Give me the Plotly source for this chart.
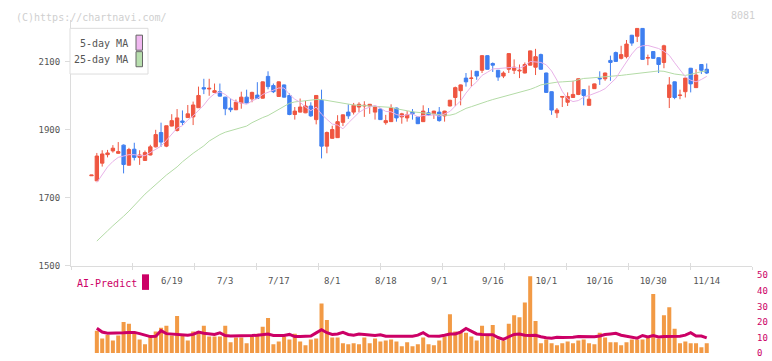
import plotly.graph_objects as go

# ---------------- data ----------------
days = list(range(116))  # trading-day index, 0 = 5/29 ... 115 = 11/14
tick_days = [15, 25, 35, 45, 55, 65, 75, 85, 95, 105, 115]
tick_labels = ["6/19", "7/3", "7/17", "8/1", "8/18", "9/1", "9/16", "10/1", "10/16", "10/30", "11/14"]

opens = [1764, 1749, 1801, 1826, 1837, 1830, 1854, 1795, 1842, 1818,
         1809, 1825, 1849, 1891, 1851, 1910, 1897, 1925, 1935, 1937,
         1964, 2023, 2019, 2009, 2011, 1995, 1963, 1958, 1978, 1995,
         1990, 2001, 1992, 2056, 2029, 1997, 2031, 2000, 1944, 1951,
         1949, 1969, 1929, 1986, 1851, 1874, 1876, 1921, 1951, 1951,
         1966, 1969, 1969, 1951, 1960, 1920, 1923, 1963, 1937, 1934,
         1951, 1937, 1923, 1949, 1946, 1951, 1940, 1969, 1994, 2014,
         2051, 2050, 2071, 2074, 2117, 2094, 2074, 2057, 2077, 2074,
         2072, 2066, 2089, 2083, 2120, 2066, 2011, 1949, 1995, 1980,
         1994, 2003, 2017, 1971, 2020, 2051, 2049, 2103, 2126, 2109,
         2114, 2177, 2174, 2197, 2110, 2129, 2111, 2097, 1994, 2040,
         2000, 2011, 2080, 2023, 2091, 2077]
highs = [1766, 1831, 1839, 1840, 1854, 1863, 1856, 1846, 1861, 1839,
         1838, 1855, 1899, 1920, 1911, 1945, 1960, 1956, 1972, 1982,
         2026, 2049, 2049, 2035, 2035, 1996, 1991, 1988, 2011, 2017,
         2011, 2039, 2041, 2071, 2035, 2041, 2032, 2006, 1966, 1991,
         1984, 1980, 2001, 2017, 1894, 1911, 1942, 1944, 1974, 1978,
         1980, 1983, 1975, 1967, 1962, 1943, 1974, 1964, 1949, 1954,
         1960, 1938, 1971, 1963, 1955, 1966, 1955, 1987, 2026, 2032,
         2066, 2074, 2072, 2118, 2118, 2097, 2075, 2071, 2124, 2106,
         2091, 2097, 2132, 2137, 2123, 2067, 2012, 1963, 1998, 2009,
         2043, 2050, 2018, 2029, 2035, 2071, 2067, 2117, 2129, 2146,
         2163, 2178, 2198, 2198, 2120, 2130, 2112, 2149, 2054, 2041,
         2017, 2052, 2081, 2077, 2092, 2094]
lows = [1764, 1749, 1791, 1818, 1832, 1828, 1771, 1794, 1809, 1796,
        1808, 1824, 1847, 1849, 1848, 1909, 1894, 1913, 1934, 1913,
        1964, 2004, 1999, 2008, 1997, 1942, 1951, 1957, 1961, 1977,
        1980, 1990, 1991, 2018, 2007, 1996, 1994, 1942, 1929, 1950,
        1948, 1937, 1915, 1815, 1830, 1873, 1875, 1910, 1931, 1944,
        1951, 1937, 1946, 1929, 1928, 1914, 1922, 1923, 1917, 1923,
        1929, 1916, 1922, 1940, 1931, 1923, 1923, 1968, 1969, 1971,
        2026, 2026, 2046, 2066, 2076, 2069, 2043, 2051, 2066, 2063,
        2051, 2065, 2088, 2060, 2076, 2008, 1943, 1934, 1966, 1969,
        1993, 2001, 1971, 1970, 2019, 2031, 2043, 2043, 2099, 2106,
        2109, 2146, 2157, 2105, 2089, 2108, 2066, 2080, 1963, 1989,
        1989, 1994, 2009, 2022, 2063, 2063]
closes = [1766, 1822, 1828, 1831, 1845, 1835, 1797, 1841, 1818, 1825,
          1832, 1849, 1885, 1863, 1911, 1926, 1934, 1921, 1946, 1972,
          2000, 2019, 2021, 2014, 1998, 1961, 1958, 1980, 1995, 1978,
          2009, 1991, 2040, 2026, 2011, 2040, 1995, 1944, 1954, 1966,
          1969, 1940, 2000, 1851, 1891, 1900, 1923, 1943, 1940, 1971,
          1974, 1971, 1974, 1966, 1929, 1926, 1963, 1934, 1946, 1943,
          1946, 1917, 1954, 1943, 1954, 1926, 1954, 1986, 2023, 2031,
          2040, 2051, 2057, 2117, 2077, 2089, 2054, 2066, 2123, 2083,
          2074, 2091, 2131, 2114, 2077, 2009, 1957, 1957, 1997, 1997,
          2003, 2049, 2000, 1989, 2034, 2049, 2066, 2097, 2100, 2120,
          2151, 2154, 2197, 2106, 2111, 2109, 2091, 2146, 2031, 1994,
          2001, 2051, 2034, 2060, 2074, 2066]

ma5 = [None,
       1744, 1768, 1790, 1806, 1818, 1822, 1826, 1826, 1823, 1823,
       1833, 1842, 1851, 1868, 1887, 1904, 1911, 1928, 1940, 1955,
       1972, 1992, 2005, 2010, 2003, 1990, 1982, 1978, 1974, 1984,
       1991, 2003, 2009, 2015, 2022, 2022, 2003, 1989, 1980, 1966,
       1955, 1966, 1945, 1930, 1916, 1913, 1902, 1919, 1935, 1950,
       1960, 1966, 1971, 1963, 1953, 1952, 1944, 1940, 1942, 1946,
       1937, 1941, 1941, 1943, 1939, 1946, 1953, 1969, 1984, 2007,
       2026, 2040, 2059, 2068, 2078, 2079, 2081, 2082, 2083, 2080,
       2087, 2100, 2099, 2097, 2090, 2072, 2045, 2012, 1990, 1982,
       1985, 1995, 2000, 2005, 2012, 2020, 2035, 2050, 2075, 2100,
       2122, 2140, 2146, 2147, 2142, 2138, 2130, 2118, 2096, 2075,
       2055, 2045, 2040, 2047, 2056]
ma25 = [None,
        1572, 1586, 1602, 1617, 1630, 1645, 1660, 1677, 1695, 1710,
        1724, 1737, 1752, 1766, 1778, 1790, 1805, 1818, 1830, 1841,
        1852, 1866, 1876, 1885, 1892, 1896, 1900, 1905, 1910, 1920,
        1928, 1935, 1941, 1950, 1960, 1968, 1977, 1981, 1983, 1985,
        1986, 1988, 1988, 1985, 1982, 1979, 1976, 1974, 1972, 1971,
        1970, 1969, 1968, 1967, 1966, 1965, 1961, 1957, 1955, 1952,
        1950, 1948, 1946, 1944, 1943, 1942, 1942, 1946, 1954, 1962,
        1967, 1973, 1978, 1983, 1988, 1992, 1997, 2002, 2006, 2010,
        2014, 2018, 2024, 2031, 2034, 2037, 2039, 2040, 2041, 2042,
        2046, 2050, 2051, 2052, 2053, 2054, 2055, 2057, 2059, 2061,
        2063, 2065, 2067, 2068, 2070, 2072, 2071, 2066, 2063, 2061,
        2059, 2062, 2067, 2070, 2072]
volume = [None,
          14.4, 9.4, 11.7, 8.1, 11.3, 20.0, 18.8, 13.8, 8.8, 5.6,
          11.3, 13.8, 16.3, 17.5, 11.3, 23.8, 11.3, 8.1, 13.8, 13.8,
          17.5, 10.6, 10.6, 10.6, 17.5, 6.9, 10.0, 10.0, 6.3, 10.6,
          12.5, 16.9, 22.5, 5.6, 7.5, 10.6, 8.8, 12.5, 7.5, 5.0,
          8.8, 9.4, 31.9, 21.3, 10.0, 10.0, 6.3, 5.6, 6.3, 5.6,
          10.0, 6.3, 9.4, 7.5, 8.1, 8.8, 7.5, 4.4, 6.9, 4.4,
          5.6, 10.0, 5.6, 5.0, 8.1, 10.6, 25.0, 13.8, 13.8, 13.1,
          10.6, 8.1, 17.5, 11.3, 18.1, 8.8, 8.1, 18.8, 24.4, 23.1,
          32.5, 49.4, 20.6, 6.3, 8.8, 6.3, 5.0, 6.3, 7.5, 6.3,
          8.1, 8.8, 6.3, 5.6, 13.1, 10.0, 6.9, 6.9, 5.0, 6.9,
          8.8, 8.8, 8.8, 10.0, 38.0, 9.4, 24.4, 29.4, 15.6, 6.3,
          7.5, 6.3, 6.3, 3.8, 6.3]
ai_predict = [None,
              16.0, 13.5, 12.7, 12.7, 12.7, 13.0, 13.3, 13.3, 12.5, 11.5,
              10.6, 10.8, 14.4, 12.5, 12.3, 12.3, 12.0, 11.5, 12.0, 13.5,
              12.8, 12.3, 12.0, 13.0, 11.3, 11.0, 11.0, 11.2, 11.2, 11.3,
              11.5, 12.0, 12.3, 11.3, 11.3, 11.3, 12.0, 10.6, 10.6, 10.8,
              11.0, 13.0, 15.0, 13.1, 12.0, 12.3, 13.3, 12.0, 11.5, 12.3,
              12.0, 11.3, 11.3, 11.8, 10.8, 10.8, 10.8, 10.8, 10.8, 10.8,
              11.5, 13.1, 11.0, 10.8, 10.8, 11.5, 12.3, 12.3, 13.5, 15.8,
              14.0, 12.3, 12.0, 11.8, 11.8, 10.0, 8.8, 10.5, 12.0, 12.3,
              11.5, 11.3, 11.5, 10.5, 9.8, 9.6, 10.2, 10.0, 10.0, 10.2,
              10.6, 10.5, 10.3, 10.5, 11.0, 11.9, 12.3, 12.7, 11.5, 10.8,
              10.2, 9.6, 11.3, 10.4, 11.2, 10.3, 10.6, 10.8, 10.6, 10.8,
              11.5, 13.1, 11.0, 11.0, 9.8]
price_ticks = [1500, 1700, 1900, 2100]
vol_ticks = [0, 10, 20, 30, 40, 50]

# ---------------- styling ----------------
W, H = 772, 361
FONT = "DejaVu Sans Mono"
RED = "#ef5641"
BLUE = "#3f7ff0"
AXIS = "#dcdcdc"
MAG = "#cc0066"


def px(x):
    return x / W


def py(y):
    return 1 - y / H


X_DOM = [px(71), px(752)]
X_RANGE = [-3.83, 123.46]

fig = go.Figure()

fig.add_trace(go.Scatter(x=days, y=ma25, mode="lines", line=dict(color="#b3dba6", width=1),
                         hoverinfo="skip", connectgaps=False))
fig.add_trace(go.Scatter(x=days, y=ma5, mode="lines", line=dict(color="#e8b2e8", width=1),
                         hoverinfo="skip", connectgaps=False))
fig.add_trace(go.Candlestick(
    x=days, open=opens, high=highs, low=lows, close=closes,
    increasing=dict(line=dict(color=RED, width=1), fillcolor=RED),
    decreasing=dict(line=dict(color=BLUE, width=1), fillcolor=BLUE),
    whiskerwidth=0, hoverinfo="skip"))

fig.add_trace(go.Bar(x=days, y=volume, width=0.75, marker=dict(color="#f29a45", line=dict(width=0)),
                     xaxis="x2", yaxis="y2", hoverinfo="skip"))
fig.add_trace(go.Scatter(x=days, y=ai_predict, mode="lines", line=dict(color=MAG, width=3),
                         xaxis="x2", yaxis="y2", hoverinfo="skip"))

# invisible traces so the decorative tick axes are drawn
fig.add_trace(go.Scatter(x=[None], y=[None], xaxis="x3", yaxis="y", showlegend=False, hoverinfo="skip"))
fig.add_trace(go.Scatter(x=[None], y=[None], xaxis="x4", yaxis="y", showlegend=False, hoverinfo="skip"))

tickfont = dict(family=FONT, size=9, color="#555555")

fig.update_layout(
    width=W, height=H, margin=dict(l=0, r=0, t=0, b=0),
    paper_bgcolor="white", plot_bgcolor="white", showlegend=False,
    boxgap=0.1, hovermode=False,
    xaxis=dict(domain=X_DOM, range=X_RANGE, showline=True, linecolor=AXIS, linewidth=1,
               showgrid=False, zeroline=False, tickvals=tick_days, ticktext=tick_labels,
               ticks="outside", ticklen=7, tickcolor="rgba(0,0,0,0)", tickfont=tickfont,
               rangeslider=dict(visible=False), fixedrange=True),
    yaxis=dict(domain=[py(268), py(15)], range=[1500, 2223], showline=True, linecolor=AXIS,
               linewidth=1, showgrid=False, zeroline=False, tickvals=price_ticks,
               ticks="outside", ticklen=5, tickcolor=AXIS, tickfont=tickfont,
               ticklabelstandoff=3, fixedrange=True),
    xaxis2=dict(domain=X_DOM, range=X_RANGE, anchor="y2", visible=False, fixedrange=True),
    yaxis2=dict(domain=[py(358), py(278)], range=[0, 50], anchor="x2", side="right",
                tickvals=vol_ticks, showgrid=False, zeroline=False, showline=False, ticks="",
                tickfont=dict(family=FONT, size=9, color=MAG), ticklabelstandoff=4,
                fixedrange=True),
    xaxis3=dict(overlaying="x", anchor="y", range=[0, 11], tickvals=list(range(12)),
                ticks="outside", ticklen=3, tickcolor=AXIS, showticklabels=False,
                showgrid=False, zeroline=False, showline=False, fixedrange=True),
    xaxis4=dict(overlaying="x", anchor="y", range=[0, 11], tickvals=list(range(12)),
                ticks="inside", ticklen=3, tickcolor=AXIS, showticklabels=False,
                showgrid=False, zeroline=False, showline=False, fixedrange=True),
)

shapes = [
    # legend box
    dict(type="rect", xref="paper", yref="paper", x0=px(70), x1=px(148), y0=py(71), y1=py(24),
         line=dict(color="#dddddd", width=1), fillcolor="white", layer="above"),
    dict(type="rect", xref="paper", yref="paper", x0=px(136), x1=px(142.5), y0=py(46.5), y1=py(31),
         line=dict(color="#666666", width=1), fillcolor="#f0b8f0", layer="above"),
    dict(type="rect", xref="paper", yref="paper", x0=px(136), x1=px(142.5), y0=py(63.5), y1=py(48),
         line=dict(color="#666666", width=1), fillcolor="#b8dfae", layer="above"),
    # AI-Predict marker
    dict(type="rect", xref="paper", yref="paper", x0=px(142), x1=px(149), y0=py(293), y1=py(277),
         line=dict(width=0), fillcolor=MAG, layer="above"),
]
annotations = [
    dict(text="(C)https://chartnavi.com/", xref="paper", yref="paper", x=px(14), y=py(12.5),
         xanchor="left", yanchor="middle", showarrow=False,
         font=dict(family=FONT, size=10, color="#cfcfcf")),
    dict(text="8081", xref="paper", yref="paper", x=px(757), y=py(11),
         xanchor="right", yanchor="middle", showarrow=False,
         font=dict(family=FONT, size=10, color="#cfcfcf")),
    dict(text="5-day MA", xref="paper", yref="paper", x=px(130), y=py(39.5),
         xanchor="right", yanchor="middle", showarrow=False,
         font=dict(family=FONT, size=10, color="#555555")),
    dict(text="25-day MA", xref="paper", yref="paper", x=px(130), y=py(56.5),
         xanchor="right", yanchor="middle", showarrow=False,
         font=dict(family=FONT, size=10, color="#555555")),
    dict(text="AI-Predict", xref="paper", yref="paper", x=px(75), y=py(286),
         xanchor="left", yanchor="middle", showarrow=False,
         font=dict(family=FONT, size=10, color=MAG)),
]
fig.update_layout(shapes=shapes, annotations=annotations)

fig.write_html("out.html",
               config={"displayModeBar": False, "staticPlot": True},
               post_script="document.body.style.margin='0';document.body.style.padding='0';"
                           "document.documentElement.style.overflow='hidden';")
